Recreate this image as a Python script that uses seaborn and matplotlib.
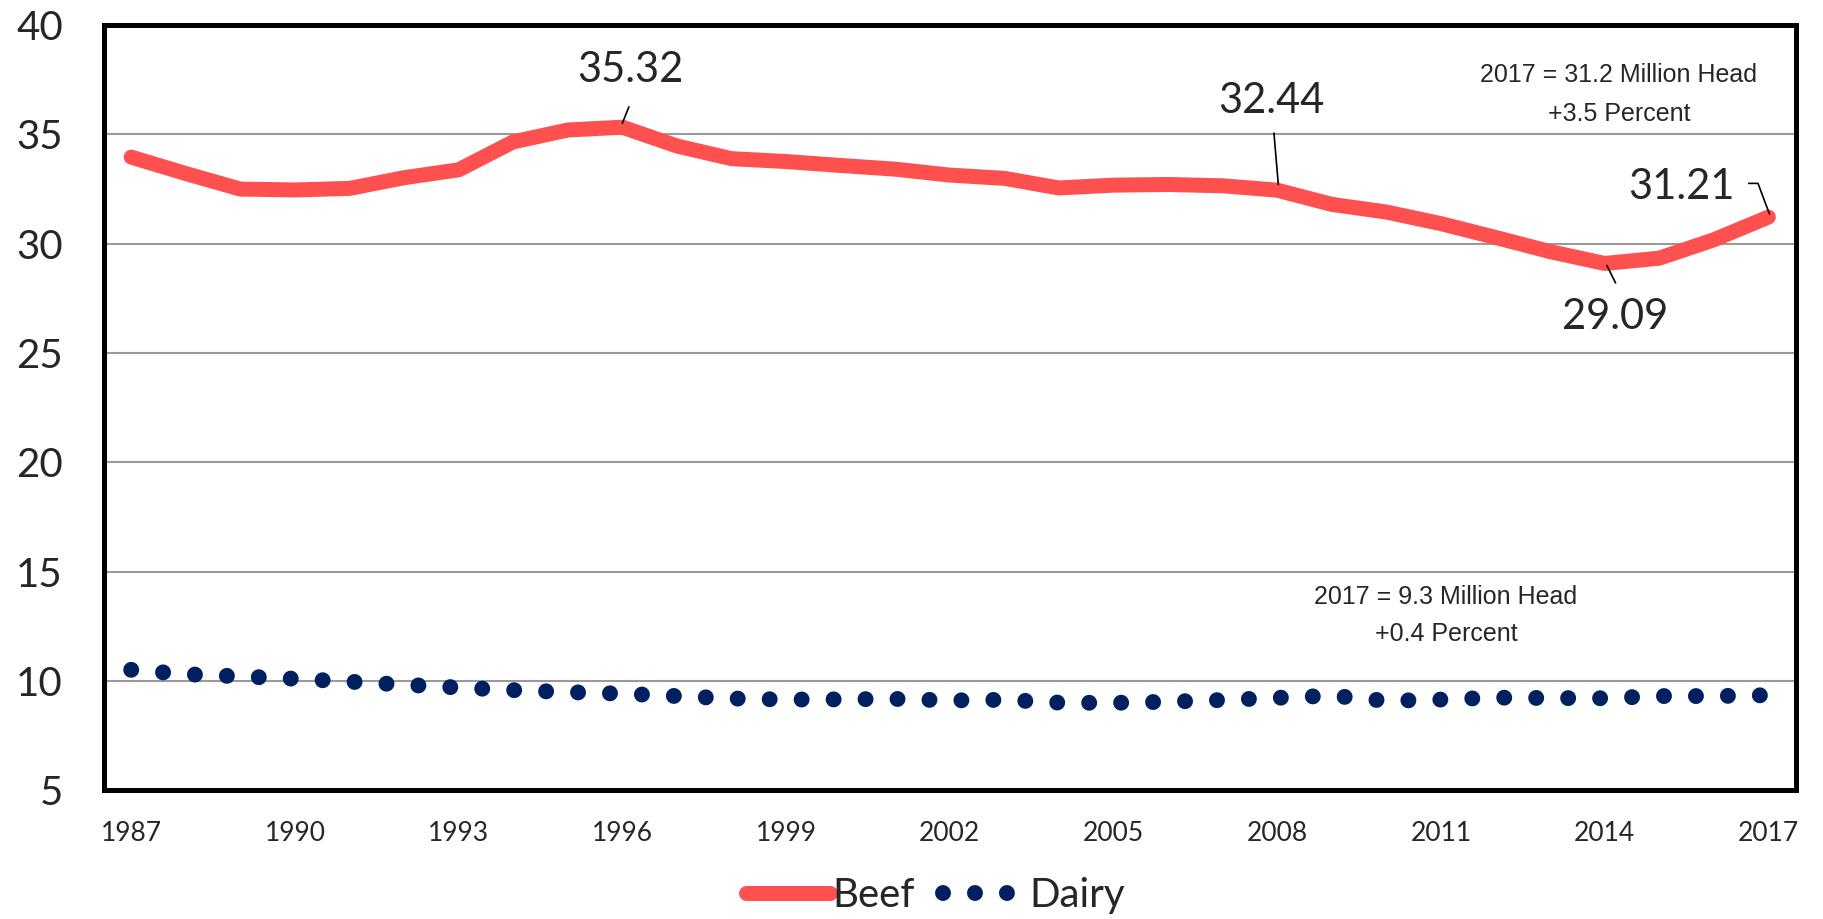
import numpy as np
import pandas as pd
import matplotlib
matplotlib.use("Agg")
import matplotlib.pyplot as plt
import seaborn as sns

# Dados (milhoes de cabecas, 1 de janeiro)
years = list(range(1987, 2018))
beef = [33.95, 33.20, 32.49, 32.45, 32.52, 33.01, 33.37, 34.65, 35.19, 35.32,
        34.46, 33.88, 33.75, 33.57, 33.40, 33.13, 32.98, 32.54, 32.67, 32.70,
        32.64, 32.44, 31.79, 31.44, 30.91, 30.28, 29.63, 29.09, 29.33, 30.17,
        31.21]
dairy = [10.51, 10.31, 10.21, 10.10, 9.97, 9.83, 9.70, 9.58, 9.49, 9.42,
         9.31, 9.20, 9.15, 9.16, 9.18, 9.11, 9.14, 9.01, 9.00, 9.05,
         9.13, 9.23, 9.33, 9.09, 9.15, 9.24, 9.22, 9.21, 9.31, 9.31,
         9.35]
tick_years = years[::3]

# rotulos de valores: (texto, posicao do texto, linha guia)
labels = [
    ("35.32", (1996.15, 37.95), [(1996.0, 35.5), (1996.12, 36.25)]),
    ("32.44", (2007.9, 36.5), [(2008.02, 32.7), (2007.94, 35.05)]),
    ("29.09", (2014.2, 26.65), [(2014.04, 29.0), (2014.2, 28.2)]),
    ("31.21", (2015.4, 32.6), [(2017.02, 31.35), (2016.81, 32.75), (2016.64, 32.75)]),
]
notes = [
    ("2017 = 31.2 Million Head", (2014.26, 37.7)),
    ("+3.5 Percent", (2014.26, 35.9)),
    ("2017 = 9.3 Million Head", (2011.09, 13.84)),
    ("+0.4 Percent", (2011.09, 12.14)),
]

df = pd.DataFrame({"Ano": years, "Beef": beef, "Dairy": dairy})

sns.set_style("white")
plt.rcParams["font.family"] = ["Lato", "DejaVu Sans"]

fig = plt.figure(figsize=(18.23, 9.19), dpi=100)
ax = fig.add_axes([0.057, 0.140, 0.928, 0.833])

sns.lineplot(data=df, x="Ano", y="Beef", ax=ax, color="#FF5050", lw=10.8,
             solid_capstyle="round", solid_joinstyle="round", label="Beef", zorder=3)
sns.lineplot(data=df, x="Ano", y="Dairy", ax=ax, color="#002060", lw=11.5,
             linestyle=(0, (0.001, 2.0)), dash_capstyle="round", label="Dairy", zorder=3)

ax.set_xlim(1986.5, 2017.5)
ax.set_ylim(5, 40)
ax.set_yticks(range(5, 41, 5))
ax.set_xticks(tick_years)
ax.set_xticks(np.arange(1986.5, 2018, 1.0), minor=True)
ax.tick_params(axis="x", which="major", length=0, labelsize=19, pad=22)
ax.tick_params(axis="x", which="minor", length=7, width=1.3, color="black", direction="out")
ax.tick_params(axis="y", length=11.5, width=1.3, color="black", direction="out",
               labelsize=29, pad=18)
ax.yaxis.grid(True, color="#9a9a9a", lw=1.5)
ax.xaxis.grid(False)
ax.set_xlabel("")
ax.set_ylabel("")
for s in ax.spines.values():
    s.set_visible(True)
    s.set_color("black")
    s.set_linewidth(3.6)

for txt, pos, guide in labels:
    ax.text(pos[0], pos[1], txt, fontsize=30, ha="center", va="center", zorder=4)
    gx, gy = zip(*guide)
    ax.plot(gx, gy, color="black", lw=1.2, zorder=4)

for txt, pos in notes:
    ax.text(pos[0], pos[1], txt, fontsize=18, ha="center", va="center",
            family=["Liberation Sans", "DejaVu Sans"])

ax.get_legend().remove()
h, l = ax.get_legend_handles_labels()
leg = fig.legend(h, l, loc="center", bbox_to_anchor=(0.513, 0.026), ncol=2, frameon=False,
                 fontsize=29, handlelength=2.1, handletextpad=0.05, columnspacing=0.7)
# pontos da legenda deslocados para colar no texto, como no original
leg.get_lines()[1].set_dashes([0.001, 2.0])
leg.get_lines()[1].set_gapcolor(None)

fig.savefig("out.png", dpi=100)
